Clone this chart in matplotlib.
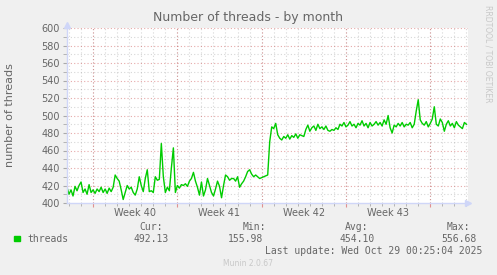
import numpy as np
import matplotlib.pyplot as plt
from matplotlib.transforms import blended_transform_factory

# datos: hilos cada 4 horas
threads = [
    418, 410, 415, 408, 419, 414, 420, 424, 412, 416, 410, 421, 412,
    415, 411, 416, 413, 418, 412, 416, 411, 417, 413, 418, 432, 428,
    425, 415, 404, 412, 420, 416, 418, 412, 409, 416, 430, 420, 413,
    428, 438, 413, 414, 412, 430, 426, 427, 468, 430, 412, 418, 414,
    440, 463, 412, 420, 417, 421, 420, 422, 419, 425, 428, 435, 425,
    418, 409, 424, 408, 415, 428, 420, 412, 408, 416, 425, 419, 406,
    420, 432, 430, 426, 428, 428, 425, 430, 418, 422, 425, 430, 436,
    438, 433, 430, 432, 430, 428, 429, 430, 431, 432, 470, 487, 485,
    491, 478, 474, 472, 476, 474, 478, 473, 477, 475, 479, 474, 478,
    477, 476, 484, 489, 482, 486, 488, 483, 490, 485, 487, 484, 488,
    483, 482, 484, 483, 486, 484, 490, 488, 492, 487, 489, 493, 488,
    490, 486, 491, 489, 494, 488, 491, 486, 492, 488, 490, 493, 489,
    492, 488, 495, 490, 500, 486, 480, 489, 487, 491, 488, 492, 487,
    490, 489, 492, 486, 490, 505, 518, 495, 491, 489, 493, 487, 491,
    496, 510, 490, 488, 496, 492, 482, 490, 494, 488, 491, 486, 493,
    489, 487, 485, 492, 490,
]
sample_hours = 4
weeks = [40, 41, 42, 43]
first_week_day = 2.16   # inicio de la semana 40 (dias desde el borde izquierdo)
span_days = 33.3

legend_heads = ['Cur:', 'Min:', 'Avg:', 'Max:']
legend_vals = ['492.13', '155.98', '454.10', '556.68']
last_update = 'Last update: Wed Oct 29 00:25:04 2025'

# colores tipo munin
BACK = '#F0F0F0'
FONT = '#666666'
AXIS = '#CFD6F8'
GREEN = '#00CC00'

W, H = 497, 275
fig = plt.figure(figsize=(W / 100, H / 100), dpi=100, facecolor=BACK)
left, right, top, bottom = 67, 468, 28, 203
ax = fig.add_axes([left / W, 1 - bottom / H, (right - left) / W, (bottom - top) / H])
ax.set_facecolor('white')

t = np.arange(len(threads)) * sample_hours / 24.0
ax.plot(t, threads, color=GREEN, linewidth=1)

ax.set_xlim(0, span_days)
ax.set_ylim(400, 600)

# rejilla
dot = (0, (1, 2))
major_x = [first_week_day + 7 * k for k in range(5)]
minor_x = [d for d in np.arange(first_week_day - 2, span_days, 1.0) if d > 0.05]
for d in minor_x:
    ax.axvline(d, color='#8C8C8C', alpha=0.35, lw=0.8, ls=dot, zorder=0)
for v in range(410, 600, 20):
    ax.axhline(v, color='#8C8C8C', alpha=0.35, lw=0.8, ls=dot, zorder=0)
for d in major_x:
    ax.axvline(d, color='#C84040', alpha=0.45, lw=0.8, ls=dot, zorder=0)
for v in range(420, 620, 20):
    ax.axhline(v, color='#C84040', alpha=0.45, lw=0.8, ls=dot, zorder=0)

for s in ['top', 'right']:
    ax.spines[s].set_visible(False)
for s in ['left', 'bottom']:
    ax.spines[s].set_color(AXIS)
    ax.spines[s].set_linewidth(1)

ax.set_yticks(range(400, 620, 20))
ax.set_yticks(range(410, 600, 20), minor=True)
ax.tick_params(axis='y', which='both', length=3, color='#AAAAAA', labelsize=7, labelcolor=FONT, pad=2)
ax.set_xticks(major_x)
ax.set_xticklabels([])
ax.set_xticks(minor_x, minor=True)
ax.tick_params(axis='x', which='major', length=3, color='#E09090', direction='out')
ax.tick_params(axis='x', which='minor', length=2, color='#AAAAAA', direction='out')

tr = blended_transform_factory(ax.transData, ax.transAxes)
for k, w in enumerate(weeks):
    ax.text(first_week_day + 7 * k + 3.5, -0.055, 'Week %d' % w, transform=tr,
            ha='center', va='center', fontsize=7, color=FONT)

# flechas de los ejes
ax.plot([1.0], [0], marker='>', color=AXIS, markersize=5, transform=ax.transAxes, clip_on=False)
ax.plot([0], [1.02], marker='^', color=AXIS, markersize=5, transform=ax.transAxes, clip_on=False)

def px(x, y):
    return x / W, 1 - y / H

fig.text(*px(248, 18), 'Number of threads - by month', ha='center', va='center',
         fontsize=9, color=FONT)
fig.text(*px(10, 115), 'number of threads', rotation=90, ha='center', va='center',
         fontsize=8, color=FONT)
fig.text(*px(488, 5), 'RRDTOOL / TOBI OETIKER', rotation=270, ha='center', va='top',
         fontsize=5.5, color='#C8C8C8')

mono = 'DejaVu Sans Mono'
fig.patches.append(plt.Rectangle(px(14, 241), 5.5 / W, 5.5 / H, transform=fig.transFigure,
                                 color=GREEN, figure=fig))
fig.text(*px(27, 239.5), 'threads', ha='left', va='center', fontsize=7, family=mono, color=FONT)
head_x = [163, 266, 368, 470]
val_x = [169, 263, 375, 477]
for hx, vx, h, v in zip(head_x, val_x, legend_heads, legend_vals):
    fig.text(*px(hx, 227.5), h, ha='right', va='center', fontsize=7, family=mono, color=FONT)
    fig.text(*px(vx, 239.5), v, ha='right', va='center', fontsize=7, family=mono, color=FONT)
fig.text(*px(482, 251), last_update, ha='right', va='center', fontsize=7, family=mono, color=FONT)
fig.text(*px(248, 264), 'Munin 2.0.67', ha='center', va='center', fontsize=5.5, color='#C8C8C8')

fig.savefig('out.png', dpi=100, facecolor=BACK)
